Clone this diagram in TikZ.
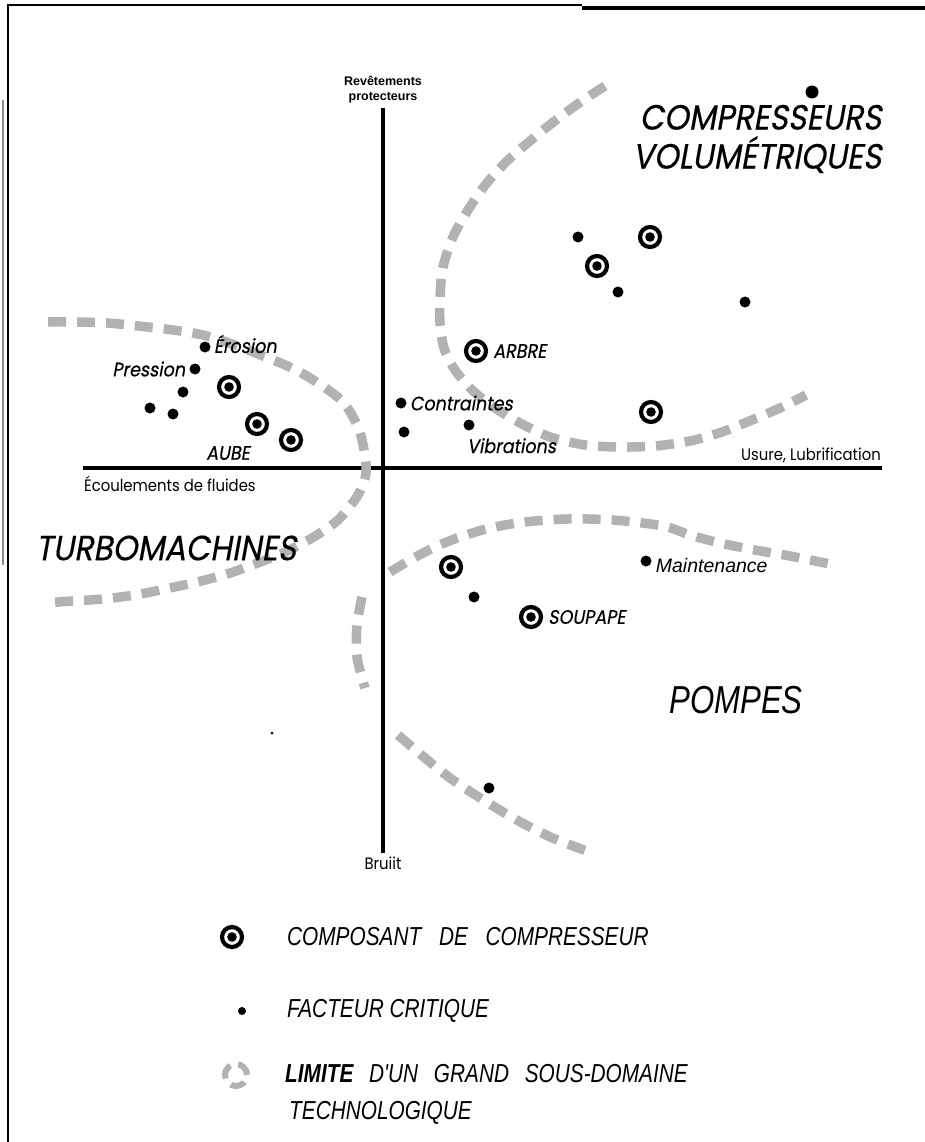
\documentclass[tikz,border=0pt]{standalone}
\usepackage{fontspec}
\setmainfont{Liberation Sans}
\newfontfamily\geo[FakeStretch=0.9]{Poppins}
\newfontfamily\geoit[FakeStretch=0.9,FakeSlant=0.18,FakeBold=0.4]{Poppins}
\newfontfamily\legfont[FakeStretch=0.8]{Liberation Sans}
\usetikzlibrary{positioning}

\begin{document}
\begin{tikzpicture}[x=1pt,y=-1pt,
comp/.style={circle,draw,line width=4.2pt,minimum size=20pt,inner sep=0pt,
  path picture={\fill (path picture bounding box.center) circle (4.8pt);}},
fact/.style={circle,fill,minimum size=11pt,inner sep=0pt},
lbl/.style={font=\geoit\fontsize{19.5}{22}\selectfont,inner sep=1pt},
axlbl/.style={font=\geo\fontsize{16.5}{18}\selectfont,inner sep=1pt},
big/.style={font=\geoit\fontsize{35}{39}\selectfont,inner sep=0pt},
leg/.style={font=\legfont\itshape\fontsize{26}{37}\selectfont,anchor=west,inner sep=0pt},
lim/.style={line width=9.5pt,draw=black!30,dash pattern=on 18pt off 11pt},
axis/.style={line width=4.5pt}
]
\useasboundingbox (0,0) rectangle (925,1142);
% frame
\draw[line width=2.5pt] (8,1142) -- (8,5) -- (582,5);
\draw[line width=3.5pt] (582,8) -- (925,8);
\draw[black!45,line width=1.5pt] (3,100) -- (3,565);

% axes
\coordinate (axtop) at (383,108);
\coordinate (axbot) at (383,853);
\coordinate (axlft) at (83,468);
\coordinate (axrgt) at (882,468);
\draw[axis] (axtop) -- (axbot);
\draw[axis] (axlft) -- (axrgt);
\node[font=\bfseries\fontsize{12.5}{15}\selectfont,align=center,above=1pt of axtop] (revet) {Revêtements\\protecteurs};
\node[axlbl,below=3pt of axbot] (bruit) {Bruiit};
\node[axlbl,anchor=north west] (ecoul) at (83,475) {Écoulements de fluides};
\node[axlbl,anchor=south east] (usure) at (882,464) {Usure, Lubrification};

% limites des sous-domaines
\draw[lim] plot[smooth] coordinates {(605,86) (582,101) (556,120) (530,141) (507,161) (486,184) (468,210) (453,237) (443,267) (440,297) (440,323) (444,348) (455,370) (472,390) (495,408) (520,423) (550,437) (585,445) (620,447) (655,446) (690,441) (722,432) (752,420) (780,408) (806,395)};
\draw[lim] plot[smooth] coordinates {(48,322) (78,322) (108,323) (138,326) (173,330) (203,335) (235,345) (263,356) (292,368) (318,383) (343,402) (358,427) (364,450) (366,473) (358,495) (338,520) (312,538) (283,553) (255,564) (227,574) (197,582) (165,589) (135,595) (103,599) (72,601) (45,603)};
\draw[lim] plot[smooth] coordinates {(362,597) (357,625) (357,657) (365,688)};
\draw[lim] plot[smooth] coordinates {(390,572) (412,559) (435,547) (460,537) (490,528) (525,522) (567,519) (613,520) (663,526) (690,535) (720,543) (755,550) (790,556) (835,565)};
\draw[lim] plot[smooth] coordinates {(398,735) (425,758) (450,778) (477,796) (503,812) (528,826) (555,839) (592,853)};

% composants
\foreach \n/\x/\y in {c1/229/387,c2/257/424,aube/291/440,arbre/476/351,c5/597/266,c6/650/237,c7/651/412,c8/451/567,soupape/531/617}
  \node[comp] (\n) at (\x,\y) {};

% facteurs critiques
\foreach \n/\x/\y in {erosion/205/347,pression/195/369,f3/183/392,f4/150/408,f5/173/414,contr/401/403,f7/404/432,vibr/469/425,f9/578/237,f10/618/292,f11/745/302,f13/474/597,maint/646/561,f15/489/788}
  \node[fact] (\n) at (\x,\y) {};
\node[fact,minimum size=13pt] (f12) at (812,92) {};
\node[fact,minimum size=3pt] (speck) at (272,733) {};

% etiquettes
\node[lbl,right=2pt of erosion,yshift=3pt] (erosionl) {Érosion};
\node[lbl,left=3pt of pression] (pressionl) {Pression};
\node[lbl] (aubel) at (228,453) {AUBE};
\node[lbl,right=4pt of arbre] (arbrel) {ARBRE};
\node[lbl,right=2pt of contr] (contrl) {Contraintes};
\node[lbl,anchor=north west] (vibrl) at (466,437) {Vibrations};
\node[lbl,right=4pt of soupape] (soupapel) {SOUPAPE};
\node[font=\itshape\fontsize{19.5}{21}\selectfont,inner sep=1pt,right=3pt of maint,yshift=-5pt] (maintl) {Maintenance};

% domaines
\node[big,align=right] (compvol) at (757,139) {COMPRESSEURS\\VOLUMÉTRIQUES};
\node[big] (turbo) at (166,548) {TURBOMACHINES};
\node[font=\legfont\itshape\fontsize{39}{40}\selectfont,inner sep=0pt] (pompes) at (736,700) {POMPES};

% legende
\node[comp] (legcomp) at (232,937) {};
\node[leg] (legcompl) at (287,937) {COMPOSANT\hspace{12pt} DE\hspace{12pt} COMPRESSEUR};
\node[fact,minimum size=8pt] (legfact) at (242,1011) {};
\node[leg] (legfactl) at (287,1011) {FACTEUR CRITIQUE};
\coordinate (leglim) at (236,1075);
\draw[lim,line width=6pt,dash pattern=on 15pt off 8pt] (leglim) circle (11pt);
\node[leg,align=left,anchor=north west] (leglimL) at (285,1064) {{\bfseries LIMITE}\hspace{10pt} D'UN\hspace{10pt} GRAND\hspace{10pt} SOUS-DOMAINE\\\hspace{4pt}TECHNOLOGIQUE};
\end{tikzpicture}
\end{document}
